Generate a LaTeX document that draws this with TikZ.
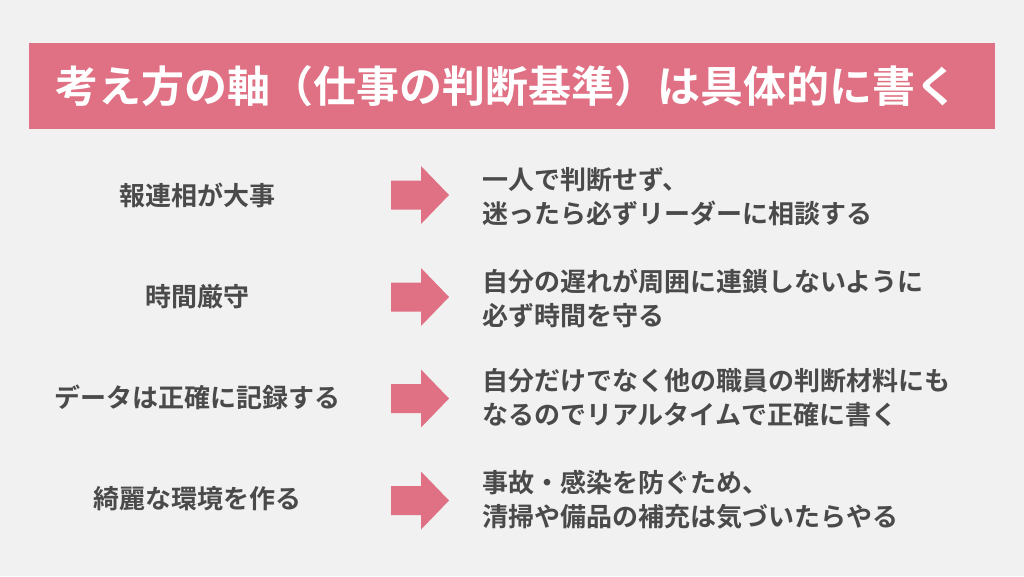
\documentclass[tikz,border=0pt]{standalone}
\usepackage{fontspec}
\setmainfont{Noto Sans CJK JP}[BoldFont=Noto Sans CJK JP Bold]
\definecolor{bgc}{HTML}{F1F1F1}
\definecolor{pinkc}{HTML}{E07083}
\definecolor{txtc}{HTML}{4A4A4A}
\tikzset{
  titletext/.style={text=white,font=\fontsize{43}{50}\selectfont\bfseries,inner sep=0},
  lefttext/.style={text=txtc,font=\fontsize{26}{34}\selectfont\bfseries,inner sep=0,anchor=center},
  righttext/.style={text=txtc,font=\fontsize{26}{34}\selectfont\bfseries,inner sep=0,anchor=west,align=left},
  arrowshape/.style={fill=pinkc}
}
\newcommand{\fatarrow}[1]{%
  \fill[arrowshape] ($(#1)+(-29,-14.5)$) -- ($(#1)+(1,-14.5)$) -- ($(#1)+(1,-29)$) -- ($(#1)+(29,0)$) -- ($(#1)+(1,29)$) -- ($(#1)+(1,14.5)$) -- ($(#1)+(-29,14.5)$) -- cycle;}
\usetikzlibrary{calc}
\begin{document}
\begin{tikzpicture}[x=1pt,y=-1pt]
\fill[bgc] (0,0) rectangle (1024,576);
\useasboundingbox (0,0) rectangle (1024,576);
\fill[pinkc] (29,43) rectangle (995,129);
\node[titletext] (title) at (507,86) {考え方の軸（仕事の判断基準）は具体的に書く};

\node[lefttext] (l1) at (197,195) {報連相が大事};
\node[lefttext] (l2) at (197,297) {時間厳守};
\node[lefttext] (l3) at (197,397) {データは正確に記録する};
\node[lefttext] (l4) at (197,499) {綺麗な環境を作る};

\coordinate (a1) at (420,195);
\coordinate (a2) at (420,297);
\coordinate (a3) at (420,398.5);
\coordinate (a4) at (420,500.5);
\fatarrow{a1}
\fatarrow{a2}
\fatarrow{a3}
\fatarrow{a4}

\node[righttext] (r1) at (482,197) {一人で判断せず、\\迷ったら必ずリーダーに相談する};
\node[righttext] (r2) at (482,298) {自分の遅れが周囲に連鎖しないように\\必ず時間を守る};
\node[righttext] (r3) at (482,398) {自分だけでなく他の職員の判断材料にも\\なるのでリアルタイムで正確に書く};
\node[righttext] (r4) at (482,500) {事故・感染を防ぐため、\\清掃や備品の補充は気づいたらやる};
\end{tikzpicture}
\end{document}
